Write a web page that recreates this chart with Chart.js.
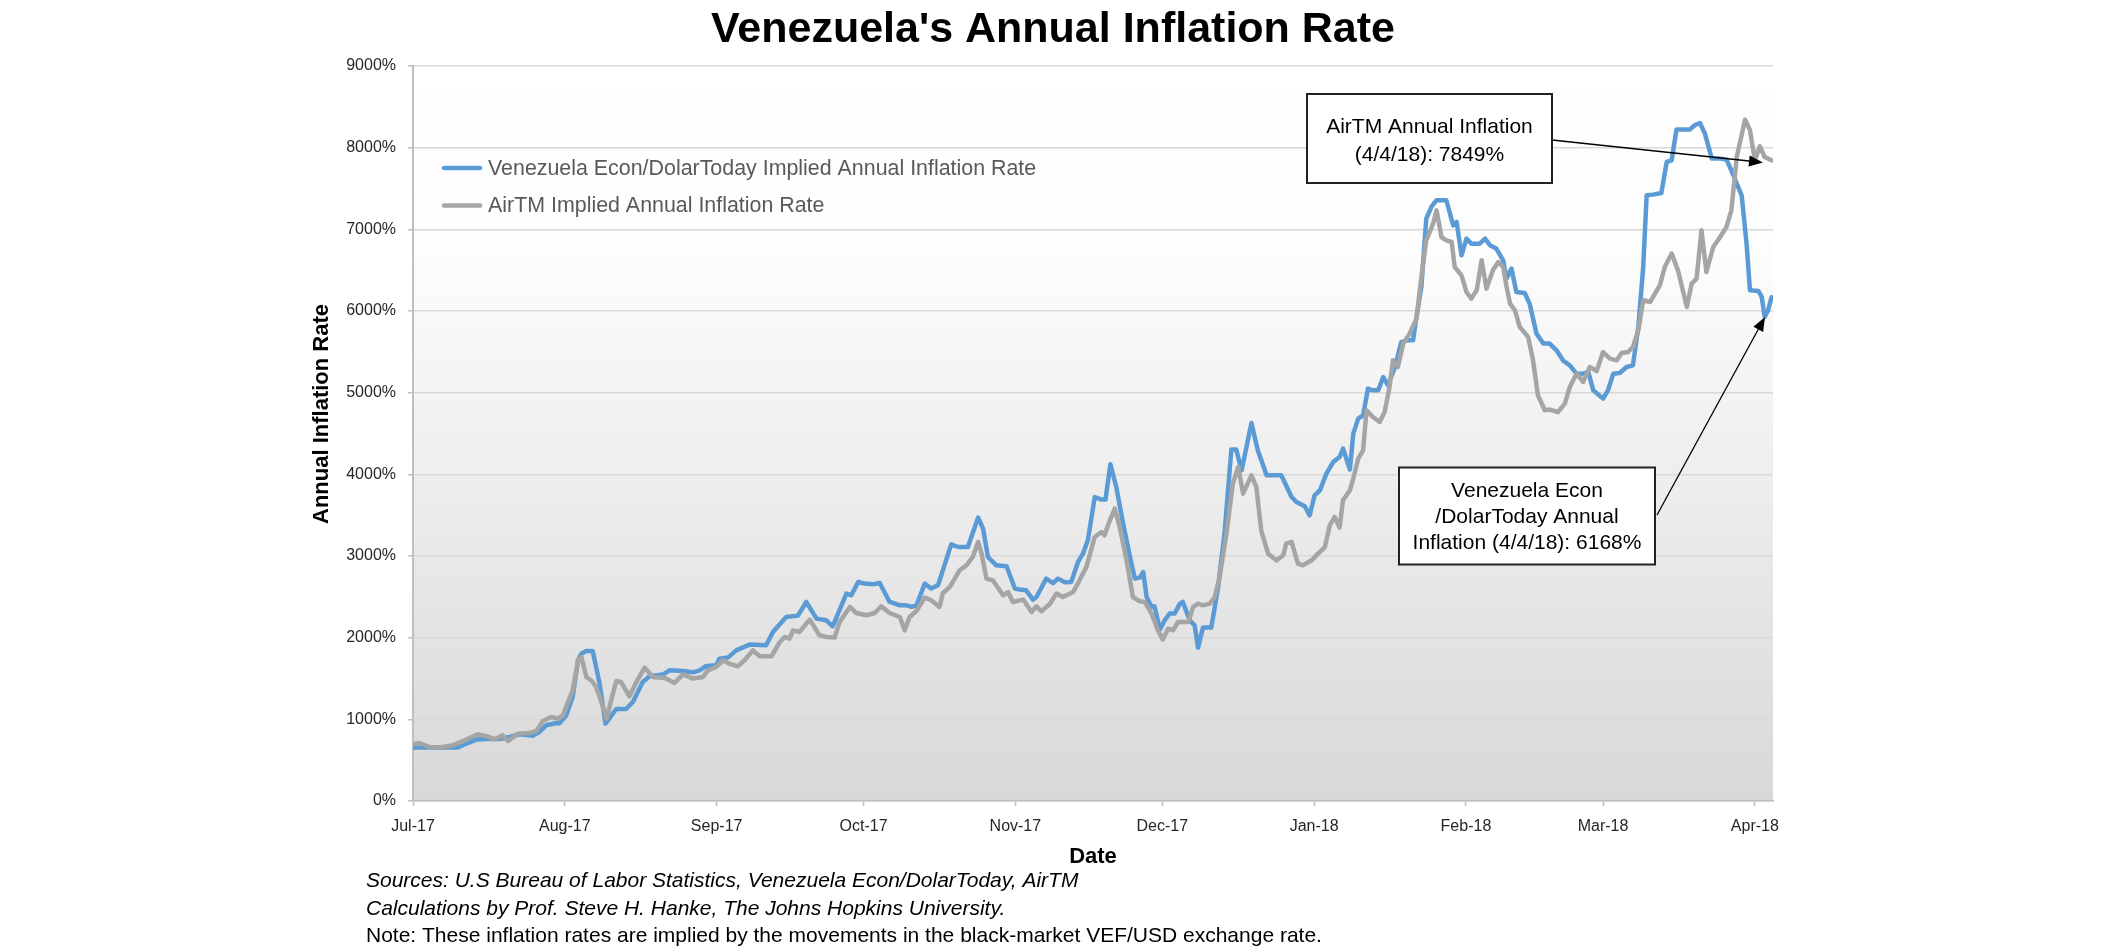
<!DOCTYPE html>
<html><head><meta charset="utf-8">
<script src="https://cdn.jsdelivr.net/npm/chart.js@4.4.1/dist/chart.umd.min.js"></script>
<style>html,body{margin:0;padding:0;background:#fff;}#wrap{position:relative;width:2103px;height:951px;}</style>
</head><body><div id="wrap"><canvas id="c" width="2103" height="951"></canvas></div>
<script>
// ---- data (days since 1 Jul 2017) ----
const monthDays = [0,31,62,92,123,153,184,215,243,274];
const monthLabels = ['Jul-17','Aug-17','Sep-17','Oct-17','Nov-17','Dec-17','Jan-18','Feb-18','Mar-18','Apr-18'];
const seriesLabels = ['Venezuela Econ/DolarToday Implied Annual Inflation Rate','AirTM Implied Annual Inflation Rate'];

const dtDays = [0,5,9.2,10.9,12.9,15,17.7,19.7,21.8,24.5,25.8,27.2,29.2,29.9,31.3,32.6,33.7,34.4,35.4,36.7,38.1,39.3,40.8,41.5,43.5,44.9,46.9,48.3,51,52.4,55.1,57.2,58.5,59.9,61.9,62.6,64.3,66,68.7,72.1,73.5,76.2,78.6,80.3,82.4,84.4,85.7,88.5,89.5,90.9,92.2,93.9,95.3,97.3,99.4,100.7,101.8,102.8,104.5,105.8,107.2,109.9,111.3,113.3,115.4,116.4,117.4,119.1,121.2,122.9,123.9,125.2,126.6,127.3,129.3,130.7,131.7,133.1,134.4,135.8,136.8,137.8,139.2,140.6,141.4,142.4,143.6,145,146.7,147.4,148.4,149.1,149.8,150.8,151.4,152.5,153.5,154.5,155.5,156.6,157.2,158.6,159.6,160.3,161.3,163,164.4,165.7,167.1,168.1,169.2,171.2,172.5,174.3,177.3,179.4,180.4,182.1,183.1,184.1,185.2,186.5,187.9,189.2,189.9,191.3,192,193,194,195,196,197.1,198.1,199.1,200.5,201.8,202.9,204.2,204.9,205.9,206.9,208,209,211,212.4,213.1,214.1,215.1,216.1,217.8,218.9,219.9,221.2,222.6,223.3,224.3,225.3,227,228,229.4,230.8,232.1,233.5,234.8,236.2,237.6,238.9,240,241,243,244,245.1,246.4,247.8,249.1,250.2,251.2,251.9,253.2,254.9,256,257,258,260.7,261.7,262.8,263.8,265.2,266.9,268.2,269.2,270.3,271.3,272.3,273,274.7,275.4,276,276.7,277.4];
const dtValues = [654,654,654,703,752,759,759,784,817,800,845,927,955,950,1049,1274,1723,1805,1837,1837,1437,948,1070,1127,1127,1212,1457,1527,1548,1600,1592,1576,1600,1653,1662,1743,1756,1845,1915,1906,2070,2253,2270,2437,2233,2213,2139,2540,2519,2682,2662,2653,2669,2440,2396,2396,2376,2396,2662,2601,2641,3143,3110,3110,3470,3335,2988,2886,2874,2601,2589,2580,2466,2498,2723,2669,2723,2678,2682,2927,3029,3192,3722,3691,3691,4123,3845,3397,2907,2723,2735,2804,2498,2376,2384,2099,2213,2295,2295,2417,2437,2213,2151,1878,2123,2123,2620,3274,4303,4303,4049,4629,4294,3988,3988,3722,3661,3609,3498,3743,3805,4009,4151,4212,4315,4060,4499,4682,4723,5050,5029,5029,5192,5090,5314,5620,5641,5641,5927,6294,7132,7282,7356,7356,7049,7090,6682,6887,6825,6825,6887,6805,6764,6621,6397,6519,6233,6221,6091,5723,5601,5601,5519,5396,5335,5233,5233,5253,5029,4927,5029,5233,5241,5314,5335,5804,6539,7417,7425,7445,7825,7845,8221,8221,8274,8302,8172,7866,7866,7854,7723,7560,7417,6825,6253,6245,6172,5927,6009,6168];

const airDays = [0,1.3,3.4,5.4,8.1,10.9,13.2,15.6,16.6,18.3,19.4,21.4,23.8,25.2,26.5,28.2,29.6,30.6,32.6,33.7,34.4,35.4,36.4,37.4,38.8,39.5,41.5,42.5,44.2,45.6,47.3,49,51.4,53.4,55.1,57.2,59.2,60.2,61.9,63.3,64.6,66.3,67.7,69.4,70.8,73.2,74.9,75.9,76.9,77.6,78.9,81,83,84.4,86.1,87.1,89.2,90.5,92.6,94.3,95.6,97.3,99.4,100.4,101.4,102.8,104.5,105.8,107.5,108.2,109.6,111.6,113,114.3,115.4,116.1,117.1,118.4,120.5,121.5,122.5,124.6,126.3,127.3,128.3,130,131.4,132.7,134.8,136.1,137.5,139.2,140.6,141.2,142.3,143.3,144.3,145.7,147,148.4,149.4,150.8,152.1,153.1,154.2,155.2,156.2,158.3,159.3,160.3,161.3,162.7,163.7,164.7,166.1,167.4,168.5,169.5,171.2,172.2,173.2,174.6,176.3,177.7,178.3,179.4,180.7,181.7,183.5,184.8,186.2,187.2,188.2,189.2,189.9,191.3,192,193,194,194.7,196,197.4,198.4,199.4,200.1,201.1,202.2,203.5,204.9,205.9,206.9,208.3,209,210,211,212.1,212.7,214.1,215.1,216.1,217.2,218.2,219.2,220.5,221.6,222.6,223.3,224,225,226,227.7,228.7,229.7,231.1,232.1,233.8,235.2,236.2,237.6,238.9,240.3,241.7,243,244.4,245.8,246.8,248.1,249.1,250.2,251.2,252.6,253.6,254.6,255.6,257,258.3,260.1,261.1,262.1,263.1,264.1,265.5,266.9,268.2,269.2,270.3,272,273,274,275,276,277.4];
const airValues = [694,710,661,654,682,752,817,784,752,804,735,825,833,857,980,1029,1009,1049,1356,1723,1763,1518,1478,1396,1151,1009,1469,1457,1282,1457,1633,1518,1506,1445,1551,1499,1518,1600,1641,1723,1682,1649,1723,1845,1772,1772,1947,2008,1989,2090,2070,2221,2029,2008,2001,2192,2376,2302,2274,2302,2384,2302,2253,2090,2253,2327,2491,2458,2376,2547,2620,2825,2886,2988,3172,3029,2723,2702,2519,2559,2437,2466,2314,2384,2323,2409,2540,2498,2559,2702,2865,3233,3294,3254,3437,3580,3355,2947,2498,2445,2437,2295,2090,1976,2111,2090,2192,2192,2376,2417,2396,2417,2498,2743,3274,3886,4090,3764,3988,3845,3315,3029,2947,3009,3152,3172,2907,2886,2947,3029,3110,3376,3478,3348,3682,3805,3948,4193,4294,4784,4702,4641,4763,5069,5396,5314,5601,5723,5907,6416,6866,7070,7233,6906,6866,6845,6539,6437,6233,6152,6253,6621,6274,6498,6600,6539,6294,6091,6009,5804,5682,5396,4968,4784,4793,4763,4866,5069,5233,5131,5314,5265,5498,5417,5396,5486,5498,5559,5764,6131,6110,6213,6315,6539,6703,6498,6049,6336,6397,6988,6478,6784,6906,7029,7233,7886,8344,8213,7845,8017,7886,7845];

const titleText = "Venezuela's Annual Inflation Rate";
const yTitle = 'Annual Inflation Rate';
const xTitle = 'Date';
const noteAir = ['AirTM Annual Inflation', '(4/4/18): 7849%'];
const noteDT = ['Venezuela Econ', '/DolarToday Annual', 'Inflation (4/4/18): 6168%'];
const footer = ['Sources: U.S Bureau of Labor Statistics, Venezuela Econ/DolarToday, AirTM',
                'Calculations by Prof. Steve H. Hanke, The Johns Hopkins University.',
                'Note: These inflation rates are implied by the movements in the black-market VEF/USD exchange rate.'];

// ---- drawing ----
const FONT = "'Liberation Sans', Arial, sans-serif";
Chart.defaults.font.family = FONT;

function arrow(ctx, x1, y1, x2, y2) {
  const ang = Math.atan2(y2 - y1, x2 - x1), L = 14, W = 5.5;
  const bx = x2 - L * Math.cos(ang), by = y2 - L * Math.sin(ang);
  ctx.beginPath(); ctx.moveTo(x1, y1); ctx.lineTo(bx, by); ctx.stroke();
  ctx.beginPath(); ctx.moveTo(x2, y2);
  ctx.lineTo(bx + W * Math.sin(ang), by - W * Math.cos(ang));
  ctx.lineTo(bx - W * Math.sin(ang), by + W * Math.cos(ang));
  ctx.closePath(); ctx.fill();
}
function box(ctx, x, y, w, h, lines, cx, baselines) {
  ctx.fillStyle = '#fff'; ctx.fillRect(x, y, w, h);
  ctx.strokeStyle = '#222'; ctx.lineWidth = 2; ctx.strokeRect(x, y, w, h);
  ctx.fillStyle = '#000'; ctx.font = '21px ' + FONT; ctx.textAlign = 'center'; ctx.textBaseline = 'alphabetic';
  lines.forEach((t, i) => ctx.fillText(t, cx, baselines[i]));
}

const deco = {
  id: 'deco',
  beforeDraw(chart) {
    const { ctx, chartArea: a } = chart;
    const g = ctx.createLinearGradient(0, a.top, 0, a.bottom);
    g.addColorStop(0, '#ffffff'); g.addColorStop(0.25, '#fdfdfd'); g.addColorStop(1, '#d8d8d8');
    ctx.save(); ctx.fillStyle = g; ctx.fillRect(a.left, a.top, a.right - a.left, a.bottom - a.top); ctx.restore();
  },
  afterDraw(chart) {
    const { ctx } = chart;
    ctx.save();
    // title
    ctx.fillStyle = '#000'; ctx.font = 'bold 43px ' + FONT; ctx.textAlign = 'center'; ctx.textBaseline = 'alphabetic';
    ctx.fillText(titleText, 1053, 42);
    // y axis title
    ctx.save(); ctx.translate(322, 414); ctx.rotate(-Math.PI / 2);
    ctx.font = 'bold 22px ' + FONT; ctx.textBaseline = 'middle'; ctx.fillText(yTitle, 0, 0); ctx.restore();
    // legend
    chart.data.datasets.forEach((ds, i) => {
      const y = 168 + i * 37.5;
      ctx.strokeStyle = ds.borderColor; ctx.lineWidth = 4.5; ctx.lineCap = 'round';
      ctx.beginPath(); ctx.moveTo(444, y); ctx.lineTo(480, y); ctx.stroke();
      ctx.fillStyle = '#595959'; ctx.font = '21.4px ' + FONT; ctx.textAlign = 'left'; ctx.textBaseline = 'middle';
      ctx.fillText(ds.label, 488, y + 1);
    });
    // annotations
    ctx.lineCap = 'butt';
    ctx.strokeStyle = '#000'; ctx.fillStyle = '#000'; ctx.lineWidth = 1.3;
    arrow(ctx, 1552, 140, 1763, 162.5);
    arrow(ctx, 1657, 515, 1765, 317);
    box(ctx, 1307, 94, 245, 89, noteAir, 1429.5, [133, 160.5]);
    box(ctx, 1399, 467.5, 256, 97, noteDT, 1527, [497, 523, 548.5]);
    // footer
    ctx.fillStyle = '#000'; ctx.textAlign = 'left'; ctx.textBaseline = 'alphabetic';
    const fb = [887, 914.5, 942];
    footer.forEach((t, i) => {
      ctx.font = (i < 2 ? 'italic ' : '') + '21px ' + FONT;
      ctx.fillText(t, 366, fb[i]);
    });
    ctx.restore();
  }
};

new Chart(document.getElementById('c'), {
  type: 'line',
  data: {
    datasets: [
      { label: seriesLabels[0], data: dtDays.map((d, i) => ({ x: d, y: dtValues[i] })),
        borderColor: '#5b9bd5', borderWidth: 4.5, pointRadius: 0, tension: 0, order: 1,
        borderJoinStyle: 'round', borderCapStyle: 'round' },
      { label: seriesLabels[1], data: airDays.map((d, i) => ({ x: d, y: airValues[i] })),
        borderColor: '#a5a5a5', borderWidth: 4.5, pointRadius: 0, tension: 0, order: 0,
        borderJoinStyle: 'round', borderCapStyle: 'round' }
    ]
  },
  options: {
    responsive: false, animation: false, devicePixelRatio: 1,
    layout: { padding: { left: 300, right: 330, top: 66, bottom: 75 } },
    plugins: { legend: { display: false }, tooltip: { enabled: false }, title: { display: false } },
    scales: {
      x: {
        type: 'linear', min: 0, max: 277.7,
        afterBuildTicks: s => { s.ticks = monthDays.map(v => ({ value: v })); },
        afterFit: s => { s.height = 75; },
        ticks: { callback: (v, i) => monthLabels[i], autoSkip: false, maxRotation: 0, padding: 11,
                 color: '#262626', font: { size: 16 } },
        grid: { drawOnChartArea: false, drawTicks: true, tickLength: 5, tickColor: '#bfbfbf', tickWidth: 1.5 },
        border: { display: true, color: '#bfbfbf', width: 1.5 },
        title: { display: true, text: xTitle, color: '#000', font: { size: 22, weight: 'bold' }, padding: { top: 0, bottom: 6 } }
      },
      y: {
        min: 0, max: 9000,
        afterFit: s => { s.width = 113; },
        ticks: { stepSize: 1000, callback: v => v + '%', padding: 12, color: '#262626', font: { size: 16 } },
        grid: { color: '#d9d9d9', lineWidth: 1.5, drawTicks: true, tickLength: 5, tickColor: '#bfbfbf' },
        border: { display: true, color: '#bfbfbf', width: 2 }
      }
    }
  },
  plugins: [deco]
});
</script></body></html>
